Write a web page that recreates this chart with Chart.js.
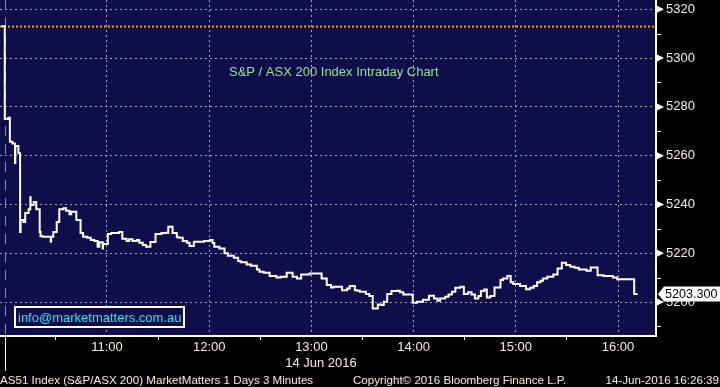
<!DOCTYPE html>
<html>
<head>
<meta charset="utf-8">
<script src="https://cdn.jsdelivr.net/npm/chart.js@4.4.1/dist/chart.umd.min.js"></script>
<style>
  html, body { margin: 0; padding: 0; background: #000; overflow: hidden; }
  canvas { display: block; }
</style>
</head>
<body>
<canvas id="chart" width="720" height="387"></canvas>
<script>
// AS51 intraday, 14 Jun 2016 — step line of 3-minute bars (minutes after 10:00)
const stepMinutes = [
  -2, 0, 2, 3, 4.5, 6, 6.2, 8, 9, 9.3,
  11, 12, 14, 15, 15.2, 17, 18.5, 20.5, 21, 22.5,
  27, 27.2, 28.5, 30.5, 32, 34.5, 36, 38, 39, 42,
  44.5, 46, 48.5, 50.5, 52.5, 54.5, 55.5, 57.5, 57.7, 60.5,
  62.5, 67, 69, 71.5, 73, 75, 77.5, 79, 81, 83,
  85.5, 88.5, 92, 94.5, 96, 98.5, 101, 102.5, 104.5, 107,
  108.5, 111, 117, 120.5, 122, 123, 126, 129, 131, 134.5,
  137, 138.5, 142, 144.5, 148, 149.5, 152, 155.5, 159.5, 162,
  165.5, 169, 171.5, 174, 179, 186, 189, 191.5, 193, 198,
  201, 202.5, 205.5, 207, 208.5, 212, 214, 216, 219, 221,
  222.5, 224.5, 227, 230.5, 232, 234, 239.5, 242, 245.5, 249,
  252, 254, 255.5, 258.5, 260.5, 262.5, 264.5, 267.5, 269.5, 272,
  274, 276, 278, 279.5, 281.5, 283, 285, 287.5, 291, 292.5,
  295, 297, 298.5, 302.5, 306, 308.5, 310.5, 312.5, 314.5, 316,
  318.5, 322, 324.5, 327, 329.5, 332, 334.5, 337, 341.5, 344,
  348, 351.5, 357, 359.5, 369.5, 371.5
]
const stepValues = [
  5313, 5275, 5275.5, 5265.7, 5265, 5257, 5264, 5261, 5228.7, 5233.6,
  5232.8, 5236.5, 5238, 5243, 5239.8, 5241, 5238, 5228.7, 5227, 5226.8,
  5224.7, 5226.8, 5228.7, 5232.8, 5238, 5238.5, 5237.4, 5236, 5237, 5233.6,
  5228.3, 5226.8, 5226.4, 5225.4, 5225, 5222.7, 5224.5, 5222, 5223.8, 5227.9,
  5228.3, 5228.7, 5226, 5225, 5225.7, 5225, 5225.4, 5224.3, 5223.4, 5222.7,
  5224.6, 5227.9, 5228.3, 5228.4, 5230.9, 5228.3, 5226.6, 5226.4, 5225, 5224.3,
  5223, 5224.7, 5225, 5225.4, 5224.2, 5222.7, 5222, 5220, 5219, 5218.2,
  5216.8, 5216.3, 5215.4, 5214.9, 5213.4, 5212.4, 5212, 5210.7, 5210.1, 5210.4,
  5212, 5210.4, 5209.7, 5211.3, 5211.7, 5209.7, 5207, 5206, 5206.3, 5204.9,
  5205.6, 5206.6, 5204.9, 5204.6, 5204.2, 5203.3, 5202.5, 5197.4, 5199, 5198.8,
  5200.1, 5203.3, 5204.5, 5204.6, 5204, 5203.1, 5199.7, 5200.1, 5201, 5202.6,
  5201.5, 5200.5, 5201.5, 5202.2, 5203.1, 5204.2, 5205.9, 5206.3, 5203.3, 5204,
  5203.1, 5201.5, 5202.5, 5204.5, 5205.2, 5201.9, 5202.5, 5206, 5209, 5209.7,
  5210.7, 5208.1, 5207.4, 5206.6, 5205.3, 5205.9, 5206.6, 5208.1, 5208.7, 5209.7,
  5210.4, 5211.3, 5213.8, 5216.1, 5215.2, 5214.5, 5214.1, 5213.4, 5212.8, 5214.2,
  5211, 5210.7, 5210.1, 5209.4, 5203.3, 5203.3
]
const prevClose = 5312.9
const lastPrice = 5203.3

const hourTicks = [60, 120, 180, 240, 300, 360]
const hourLabels = ['11:00', '12:00', '13:00', '14:00', '15:00', '16:00']
const halfHourTicks = [30, 90, 150, 210, 270, 330]
const priceTicks = [5200, 5220, 5240, 5260, 5280, 5300, 5320]
const minorPriceTicks = [5190, 5210, 5230, 5250, 5270, 5290, 5310]

const xMin = -2.8, xMax = 382.3
const yMin = 5186.1, yMax = 5323.8

const FONT = "'Liberation Sans', Arial, sans-serif"
const NAVY = '#0f0d4a'
const GRID = '#a4a4b4'
const CREAM = '#f4eedc'

// fondo, textos y marcas del estilo terminal
const bloombergDecor = {
  id: 'bloombergDecor',
  beforeDraw(chart) {
    const { ctx, chartArea: a } = chart
    ctx.save()
    ctx.fillStyle = '#000'
    ctx.fillRect(0, 0, chart.width, chart.height)
    ctx.fillStyle = NAVY
    ctx.fillRect(a.left, a.top, a.right - a.left, a.bottom - a.top)
    ctx.restore()
  },
  beforeDatasetsDraw(chart) {
    // separador de sesión (10:00)
    const { ctx, chartArea: a, scales: { x } } = chart
    const sx = Math.round(x.getPixelForValue(0)) + 0.5
    ctx.save()
    ctx.strokeStyle = '#8c8c96'
    ctx.lineWidth = 1
    ctx.setLineDash([10, 8])
    ctx.beginPath(); ctx.moveTo(sx, a.top); ctx.lineTo(sx, a.bottom); ctx.stroke()
    ctx.restore()

    // título
    ctx.save()
    ctx.font = '13px ' + FONT
    ctx.fillStyle = '#8fe88f'
    ctx.textBaseline = 'alphabetic'
    ctx.fillText('S&P / ASX 200 Index Intraday Chart', 229, 76)
    ctx.restore()
  },
  afterDraw(chart) {
    const { ctx, chartArea: a, scales: { x, y } } = chart
    ctx.save()

    // separador bajo el eje
    const sx = Math.round(x.getPixelForValue(0)) + 0.5
    ctx.strokeStyle = '#fff'
    ctx.lineWidth = 1
    ctx.beginPath(); ctx.moveTo(sx, a.bottom); ctx.lineTo(sx, 371); ctx.stroke()

    // flechas y ticks menores del eje de precios
    ctx.fillStyle = '#fff'
    priceTicks.forEach(v => {
      const py = y.getPixelForValue(v)
      ctx.beginPath()
      ctx.moveTo(a.right + 1, py - 3.5); ctx.lineTo(a.right + 8, py); ctx.lineTo(a.right + 1, py + 3.5)
      ctx.closePath(); ctx.fill()
    })
    ctx.lineWidth = 1
    minorPriceTicks.forEach(v => {
      const py = Math.round(y.getPixelForValue(v)) + 0.5
      ctx.beginPath(); ctx.moveTo(a.right, py); ctx.lineTo(a.right + 5, py); ctx.stroke()
    })

    // etiqueta último precio
    const ly = y.getPixelForValue(lastPrice)
    ctx.fillStyle = '#fff'
    ctx.beginPath()
    ctx.moveTo(a.right + 2, ly)
    ctx.lineTo(a.right + 8, ly - 7.5)
    ctx.lineTo(720, ly - 7.5)
    ctx.lineTo(720, ly + 7.5)
    ctx.lineTo(a.right + 8, ly + 7.5)
    ctx.closePath(); ctx.fill()
    ctx.fillStyle = '#000'
    ctx.font = '12.6px ' + FONT
    ctx.textBaseline = 'middle'
    ctx.fillText(lastPrice.toFixed(3), a.right + 9, ly + 0.5)

    // caja de contacto
    ctx.fillStyle = NAVY
    ctx.fillRect(15, 307, 169, 20)
    ctx.strokeStyle = '#fff'
    ctx.lineWidth = 2
    ctx.strokeRect(15, 307, 169, 20)
    ctx.fillStyle = '#22e4f4'
    ctx.font = '13px ' + FONT
    ctx.textBaseline = 'alphabetic'
    ctx.fillText('info@marketmatters.com.au', 18, 322)

    // fecha bajo el eje
    ctx.fillStyle = CREAM
    ctx.textAlign = 'center'
    ctx.fillText('14 Jun 2016', 321, 367)

    // pie
    ctx.font = '11.6px ' + FONT
    ctx.textAlign = 'left'
    ctx.fillText('AS51 Index (S&P/ASX 200) MarketMatters 1 Days 3 Minutes', 0, 384)
    ctx.fillText('Copyright\u00a9 2016 Bloomberg Finance L.P.', 353, 384)
    ctx.textAlign = 'right'
    ctx.fillText('14-Jun-2016 16:26:39', 719, 384)
    ctx.restore()
  }
}

new Chart(document.getElementById('chart'), {
  type: 'line',
  data: {
    datasets: [
      {
        label: 'AS51',
        data: stepMinutes.map((m, i) => ({ x: m, y: stepValues[i] })),
        stepped: 'before',
        borderColor: '#ffffff',
        borderWidth: 2,
        pointRadius: 0,
        fill: false,
      },
      {
        label: 'Prev close',
        data: [{ x: xMin, y: prevClose }, { x: xMax, y: prevClose }],
        borderColor: '#ff9b00',
        borderWidth: 2,
        borderDash: [2, 2],
        pointRadius: 0,
        fill: false,
      }
    ]
  },
  options: {
    responsive: false,
    animation: false,
    devicePixelRatio: 1,
    layout: { padding: 0 },
    plugins: { legend: { display: false }, tooltip: { enabled: false } },
    scales: {
      x: {
        type: 'linear',
        position: 'bottom',
        min: xMin,
        max: xMax,
        afterBuildTicks: s => { s.ticks = halfHourTicks.concat(hourTicks).sort((p, q) => p - q).map(v => ({ value: v })) },
        afterFit: s => { s.height = 51; s.paddingLeft = 0; s.paddingRight = 0 },
        grid: {
          color: c => (c.tick && c.tick.value % 60 === 0) ? GRID : 'rgba(0,0,0,0)',
          lineWidth: 1,
          tickLength: 4,
          tickWidth: 1,
          tickColor: c => (c.tick && c.tick.value % 60 === 0) ? 'rgba(0,0,0,0)' : '#ffffff',
        },
        border: { color: '#ffffff', width: 2, dash: [2, 3] },
        ticks: {
          autoSkip: false,
          maxRotation: 0,
          padding: 0,
          color: CREAM,
          font: { family: FONT, size: 13 },
          callback: v => { const i = hourTicks.indexOf(v); return i >= 0 ? hourLabels[i] : '' }
        }
      },
      y: {
        type: 'linear',
        position: 'right',
        min: yMin,
        max: yMax,
        afterBuildTicks: s => { s.ticks = priceTicks.map(v => ({ value: v })) },
        afterFit: s => { s.width = 64; s.paddingTop = 0; s.paddingBottom = 0 },
        grid: { color: GRID, lineWidth: 1, drawTicks: false },
        border: { color: '#ffffff', width: 2, dash: [2, 3] },
        ticks: {
          padding: 10,
          color: CREAM,
          font: { family: FONT, size: 13 },
          callback: v => String(v)
        }
      }
    }
  },
  plugins: [bloombergDecor]
})
</script>
</body>
</html>
